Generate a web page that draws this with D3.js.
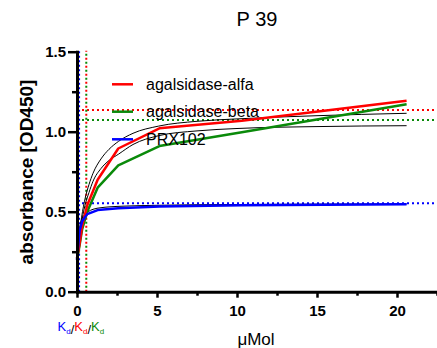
<!DOCTYPE html>
<html>
<head>
<meta charset="utf-8">
<script src="https://cdn.jsdelivr.net/npm/d3@7"></script>
<style>
  html, body { margin: 0; padding: 0; background: #fff; }
  svg { display: block; font-family: Arial, "Liberation Sans", sans-serif; }
</style>
</head>
<body>
<svg id="chart" width="437" height="348"></svg>
<script>
// Concentrations (µMol) of the dilution series
const conc = [0, 0.16, 0.32, 0.64, 1.29, 2.58, 5.15, 10.3, 20.6];

// Measured absorbance per enzyme
const alfaOD = [0.21, 0.30, 0.41, 0.54, 0.70, 0.895, 1.021, 1.068, 1.194];
const betaOD = [0.20, 0.29, 0.39, 0.50, 0.65, 0.79, 0.91, 0.997, 1.171];
const prxOD  = [0.20, 0.38, 0.44, 0.485, 0.51, 0.522, 0.532, 0.54, 0.546];

// Binding fit curves, sampled [µMol, OD]
const alfaFit = [[0,0.21],[0.1,0.32],[0.25,0.44],[0.5,0.58],[0.75,0.67],[1,0.74],[1.5,0.83],[2,0.89],[2.6,0.94],[3.5,0.99],[5.1,1.035],[7.5,1.065],[10,1.08],[15,1.10],[20.6,1.115]];
const betaFit = [[0,0.21],[0.1,0.30],[0.25,0.41],[0.5,0.54],[0.75,0.62],[1,0.69],[1.5,0.77],[2,0.82],[2.6,0.86],[3.5,0.92],[5.1,0.975],[7.5,1.005],[10,1.02],[15,1.032],[20.6,1.0375]];
const prxFit  = [[0,0.20],[0.05,0.30],[0.1,0.36],[0.2,0.42],[0.4,0.47],[0.7,0.50],[1,0.515],[1.5,0.525],[2,0.53],[3,0.535],[5,0.54],[10,0.545],[20.6,0.548]];

// Fitted Bmax and Kd per enzyme
const bmax = { alfa: 1.136, beta: 1.073, prx: 0.5525 };
const kd   = { alfa: 0.58, beta: 0.58, prx: 0.13 };

const seriesNames = ["agalsidase-alfa", "agalsidase-beta", "PRX102"];
const seriesColors = ["#ff0000", "#0a8a0a", "#0000ff"];

const xTicks = [0, 5, 10, 15, 20];
const xMinor = [2.5, 7.5, 12.5, 17.5, 22.5];
const yTicks = [0, 0.5, 1.0, 1.5];
const yMinor = [0.25, 0.75, 1.25];

const svg = d3.select("#chart");
const x = d3.scaleLinear().domain([0, 22.5]).range([77, 437]);
const y = d3.scaleLinear().domain([0, 1.5]).range([291.7, 51.7]);

// Title
svg.append("text").attr("x", 257).attr("y", 26).attr("text-anchor", "middle")
  .style("font-size", "20px").text("P 39");

// Dotted Bmax guides
const hGuides = [[bmax.alfa, seriesColors[0]], [bmax.beta, seriesColors[1]], [bmax.prx, seriesColors[2]]];
svg.selectAll("line.hg").data(hGuides).join("line").attr("class", "hg")
  .attr("x1", x(0)).attr("x2", x(22.5))
  .attr("y1", d => y(d[0])).attr("y2", d => y(d[0]))
  .attr("stroke", d => d[1]).attr("stroke-width", 2).attr("stroke-dasharray", "2,3");

// Dotted Kd guides
const vGuides = [[kd.prx, seriesColors[2], "2,2.5", 0], [kd.alfa, seriesColors[0], "2,6", 0], [kd.beta, seriesColors[1], "2,6", 4]];
svg.selectAll("line.vg").data(vGuides).join("line").attr("class", "vg")
  .attr("x1", d => x(d[0])).attr("x2", d => x(d[0]))
  .attr("y1", y(0)).attr("y2", y(1.5) - 1)
  .attr("stroke", d => d[1]).attr("stroke-width", 2)
  .attr("stroke-dasharray", d => d[2]).attr("stroke-dashoffset", d => d[3]);

// Fit curves
const fitLine = d3.line().x(d => x(d[0])).y(d => y(d[1])).curve(d3.curveMonotoneX);
svg.selectAll("path.fit").data([alfaFit, betaFit, prxFit]).join("path").attr("class", "fit")
  .attr("d", fitLine).attr("fill", "none").attr("stroke", "#000").attr("stroke-width", 1);

// Measured data lines
const dataLine = d3.line().x((d, i) => x(conc[i])).y(d => y(d));
svg.selectAll("path.data").data([betaOD, alfaOD, prxOD]).join("path").attr("class", "data")
  .attr("d", dataLine).attr("fill", "none")
  .attr("stroke", (d, i) => [seriesColors[1], seriesColors[0], seriesColors[2]][i])
  .attr("stroke-width", 2.5).attr("stroke-linejoin", "round");

// Legend
const legendY = [84.3, 111.7, 139.3];
const lg = svg.selectAll("g.leg").data(seriesNames).join("g").attr("class", "leg")
  .attr("transform", (d, i) => `translate(0,${legendY[i]})`);
lg.append("line").attr("x1", 112).attr("x2", 133).attr("y1", 0).attr("y2", 0)
  .attr("stroke", (d, i) => seriesColors[i]).attr("stroke-width", 2.5);
lg.append("text").attr("x", 146).attr("dy", "0.36em").style("font-size", "16px").text(d => d);

// Axes
const xAxis = svg.append("g").attr("transform", `translate(0,${y(0)})`)
  .call(d3.axisBottom(x).tickValues(xTicks).tickSize(6).tickSizeOuter(0).tickPadding(8));
const xMinorAxis = svg.append("g").attr("transform", `translate(0,${y(0)})`)
  .call(d3.axisBottom(x).tickValues(xMinor).tickSize(4).tickFormat(""));
const yAxis = svg.append("g").attr("transform", `translate(${x(0)},0)`)
  .call(d3.axisLeft(y).tickValues(yTicks).tickFormat(d3.format(".1f")).tickSize(9).tickSizeOuter(0).tickPadding(2));
const yMinorAxis = svg.append("g").attr("transform", `translate(${x(0)},0)`)
  .call(d3.axisLeft(y).tickValues(yMinor).tickSize(5).tickFormat(""));

[xAxis, yAxis].forEach(g => {
  g.select(".domain").attr("stroke", "#000").attr("stroke-width", 3).attr("stroke-linecap", "square");
  g.selectAll(".tick text").style("font-size", "15px").style("font-weight", "bold")
    .attr("fill", "#000").style("font-family", "Arial, 'Liberation Sans', sans-serif");
});
[xMinorAxis, yMinorAxis].forEach(g => g.select(".domain").remove());
[xAxis, yAxis, xMinorAxis, yMinorAxis].forEach(g =>
  g.selectAll(".tick line").attr("stroke", "#000").attr("stroke-width", 2.5));

// Axis titles
svg.append("text").attr("x", 256).attr("y", 345).attr("text-anchor", "middle")
  .style("font-size", "17px").text("μMol");
svg.append("text").attr("transform", "translate(33,172) rotate(-90)").attr("text-anchor", "middle")
  .style("font-size", "19px").style("font-weight", "bold").text("absorbance [OD450]");

// Kd key under the origin
const kdText = svg.append("text").attr("x", 57.5).attr("y", 331).style("font-size", "13px");
const kdColors = [seriesColors[2], seriesColors[0], seriesColors[1]];
kdColors.forEach((c, i) => {
  kdText.append("tspan").attr("fill", c).attr("dy", i === 0 ? 0 : -3).text("K");
  kdText.append("tspan").attr("fill", c).attr("dy", 3).style("font-size", "8px").text("d");
  if (i < 2) kdText.append("tspan").attr("fill", "#000").text("/");
});
</script>
</body>
</html>
